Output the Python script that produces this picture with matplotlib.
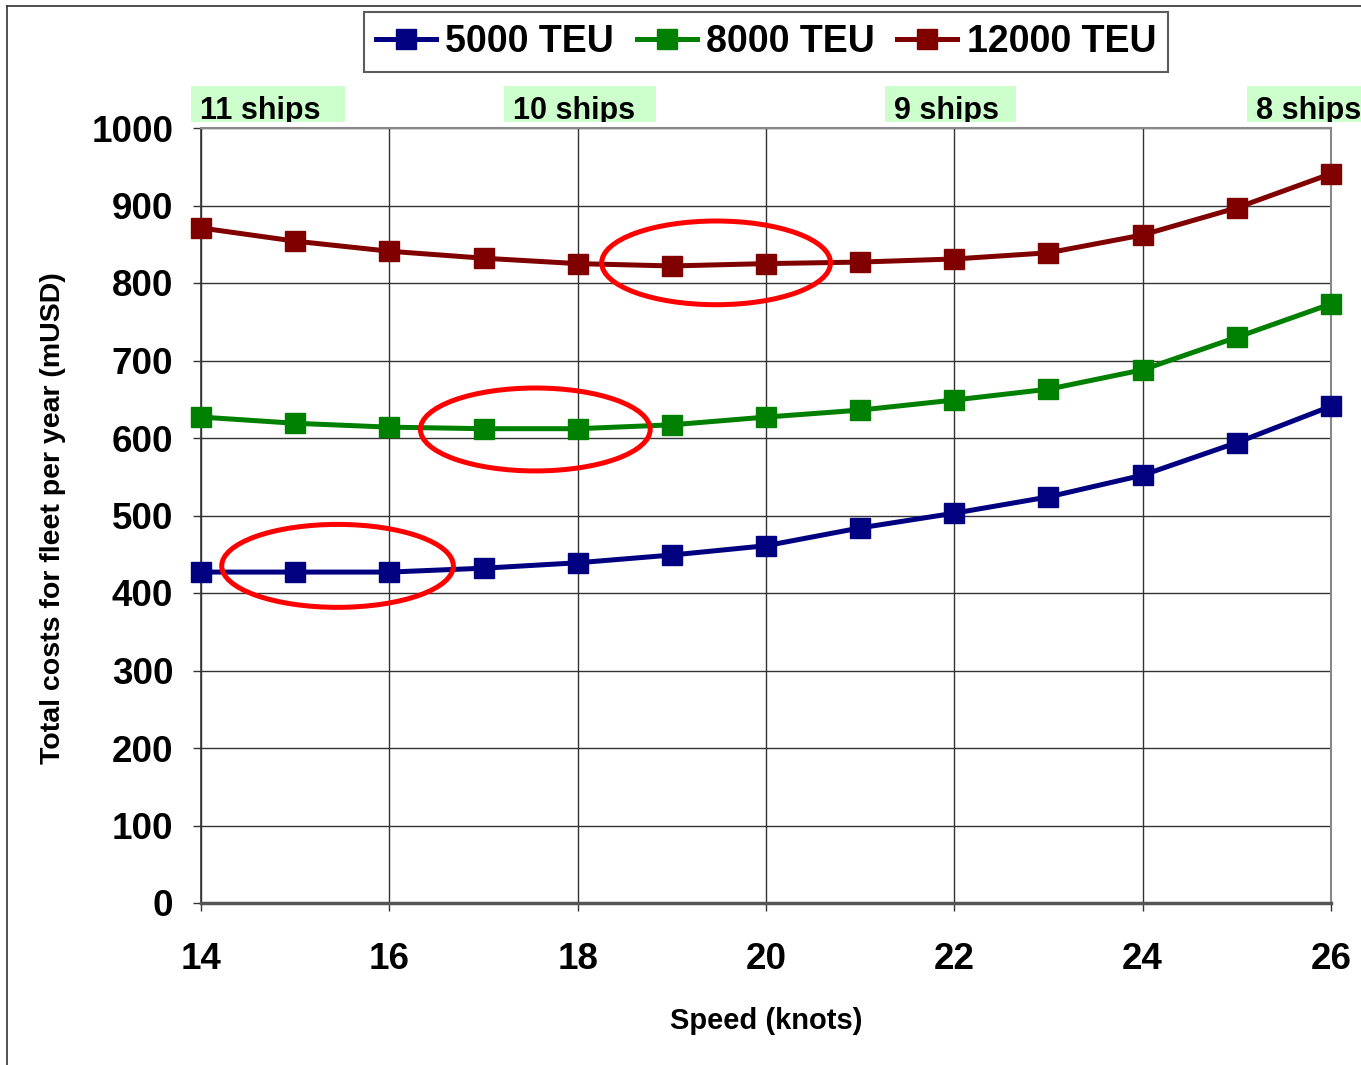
import matplotlib
matplotlib.use("Agg")
import matplotlib.pyplot as plt
from matplotlib.patches import Ellipse, Rectangle
from matplotlib.lines import Line2D

speed = [14, 15, 16, 17, 18, 19, 20, 21, 22, 23, 24, 25, 26]
teu5000 = [427, 427, 427, 432, 439, 449, 461, 484, 503, 524, 552, 594, 641]
teu8000 = [627, 619, 614, 612, 612, 617, 627, 636, 649, 663, 688, 730, 773]
teu12000 = [871, 854, 841, 832, 825, 822, 825, 827, 831, 839, 862, 897, 941]
series_names = ["5000 TEU", "8000 TEU", "12000 TEU"]
series_colors = ["#000080", "#008000", "#800000"]
ship_labels = ["11 ships", "10 ships", "9 ships", "8 ships"]
# optimum-speed highlight ellipses: (center speed, center cost, width knots, height cost)
ellipses = [(15.45, 435, 2.46, 107), (17.55, 611, 2.44, 107), (19.47, 826, 2.43, 108)]
xticks = [14, 16, 18, 20, 22, 24, 26]
yticks = [0, 100, 200, 300, 400, 500, 600, 700, 800, 900, 1000]

W, H = 1361, 1065
fig = plt.figure(figsize=(W / 100, H / 100), dpi=100)
plt.rcParams['font.family'] = ['Liberation Sans', 'DejaVu Sans']

def fx(px):
    return px / W

def fy(py):
    return 1 - py / H

ax = fig.add_axes([fx(201), fy(903), fx(1331) - fx(201), fy(128) - fy(903)])

for vals, name, col in zip([teu5000, teu8000, teu12000], series_names, series_colors):
    ax.plot(speed, vals, color=col, lw=3.6, marker='s', markersize=14,
            markeredgecolor=col, label=name, zorder=4, clip_on=False)

for cx, cy, w, h in ellipses:
    ax.add_patch(Ellipse((cx, cy), w, h, fill=False, edgecolor='#FF0000', lw=3.6, zorder=5))

ax.set_xlim(14, 26)
ax.set_ylim(0, 1000)
ax.set_xticks(xticks)
ax.set_yticks(yticks)
ax.grid(True, color='#333333', lw=1.0)
ax.set_axisbelow(True)
for side in ['top', 'right']:
    ax.spines[side].set_color('#888888')
    ax.spines[side].set_linewidth(1.5)
ax.spines['left'].set_color('#333333')
ax.spines['left'].set_linewidth(1.2)
ax.spines['bottom'].set_color('#555555')
ax.spines['bottom'].set_linewidth(2.5)
ax.tick_params(axis='both', direction='out', length=6, width=1, color='#333333',
               labelsize=26.5)
ax.tick_params(axis='y', pad=14)
ax.tick_params(axis='x', pad=22)
for lab in ax.get_xticklabels() + ax.get_yticklabels():
    lab.set_fontweight('bold')

fig.text(fx(766), fy(1021), "Speed (knots)", ha='center', va='center',
         fontsize=21, fontweight='bold')
fig.text(fx(53), fy(518), "Total costs for fleet per year (mUSD)", ha='center',
         va='center', rotation=90, fontsize=20.5, fontweight='bold')

leg = fig.legend(loc='center', bbox_to_anchor=(fx(766), fy(42)), ncol=3,
                 prop={'weight': 'bold', 'size': 27},
                 frameon=True, fancybox=False, edgecolor='#333333',
                 handlelength=1.6, handletextpad=0.25, columnspacing=0.6,
                 borderpad=0.32, borderaxespad=0)
leg.get_frame().set_linewidth(1.5)

# ship count labels
boxes = [(191, 345), (504, 656), (885, 1016), (1247, 1361)]
for (x0, x1), s in zip(boxes, ship_labels):
    rect = Rectangle((fx(x0), fy(122)), fx(x1) - fx(x0), fy(86) - fy(122),
                     transform=fig.transFigure, facecolor='#CCFFCC', edgecolor='none')
    fig.patches.append(rect)
    t = fig.text(fx(x0 + 9), fy(119), s, ha='left', va='baseline', fontsize=22,
                 fontweight='bold')
    t.set_clip_path(rect)

# outer frame
fig.lines.append(Line2D([fx(7), 1], [fy(6), fy(6)], transform=fig.transFigure,
                        color='#333333', lw=1.2))
fig.lines.append(Line2D([fx(7), fx(7)], [fy(6), 0], transform=fig.transFigure,
                        color='#333333', lw=1.2))

fig.savefig("out.png", dpi=100)
